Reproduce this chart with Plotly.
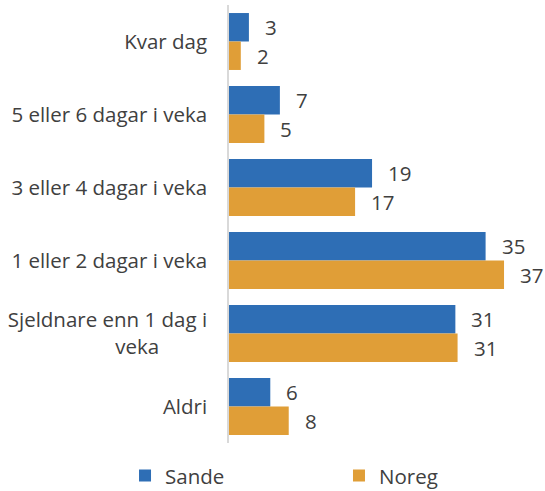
import plotly.graph_objects as go

categories = ["Kvar dag", "5 eller 6 dagar i veka", "3 eller 4 dagar i veka",
              "1 eller 2 dagar i veka",
              "Sjeldnare enn 1 dag i<br>veka" + "\u00a0" * 9, "Aldri"]
sande = [2.7, 6.9, 19.4, 34.8, 30.7, 5.6]
noreg = [1.6, 4.8, 17.1, 37.3, 31.0, 8.1]
series_names = ["Sande", "Noreg"]
colors = ["#2E6EB5", "#E09E37"]
legend_ids = ["legend", "legend2"]

FONT = "Open Sans"
FS = 20.5
TXT = "#404040"

fig = go.Figure()
for name, vals, col, lg in zip(series_names, [sande, noreg], colors, legend_ids):
    fig.add_trace(go.Bar(
        y=categories, x=vals, name=name, orientation="h", legend=lg,
        marker=dict(color=col, line=dict(width=0)),
    ))

annotations = []
for vals, shift in [(sande, 14.3), (noreg, -14.3)]:
    for c, v in zip(categories, vals):
        annotations.append(dict(
            x=v, y=c, xref="x", yref="y", text=f"{v:.0f}", showarrow=False,
            xanchor="left", yanchor="middle", xshift=14, yshift=shift,
            font=dict(family=FONT, size=FS, color=TXT)))

legend_common = dict(orientation="h", xref="container", yref="container",
                     xanchor="left", y=0.031, yanchor="middle",
                     font=dict(family=FONT, size=FS, color=TXT))

fig.update_layout(
    width=545, height=491,
    margin=dict(l=229, r=10, t=5, b=48, autoexpand=False),
    barmode="group", bargap=0.22, bargroupgap=0,
    plot_bgcolor="white", paper_bgcolor="white",
    font=dict(family=FONT, size=FS, color=TXT),
    xaxis=dict(range=[0, 41.5], showticklabels=False, showgrid=False, zeroline=False,
               showline=False, ticks="", automargin=False),
    yaxis=dict(autorange="reversed", showline=True, linecolor="#D9D9D9", linewidth=1.5,
               ticks="outside", ticklen=16, tickcolor="rgba(0,0,0,0)", showgrid=False,
               automargin=False,
               tickfont=dict(family=FONT, size=FS, color=TXT)),
    legend=dict(x=0.2294, **legend_common),
    legend2=dict(x=0.622, **legend_common),
    annotations=annotations,
    showlegend=True,
)

fig.write_html("out.html", config={"displayModeBar": False},
               post_script="document.body.style.margin='0';")
